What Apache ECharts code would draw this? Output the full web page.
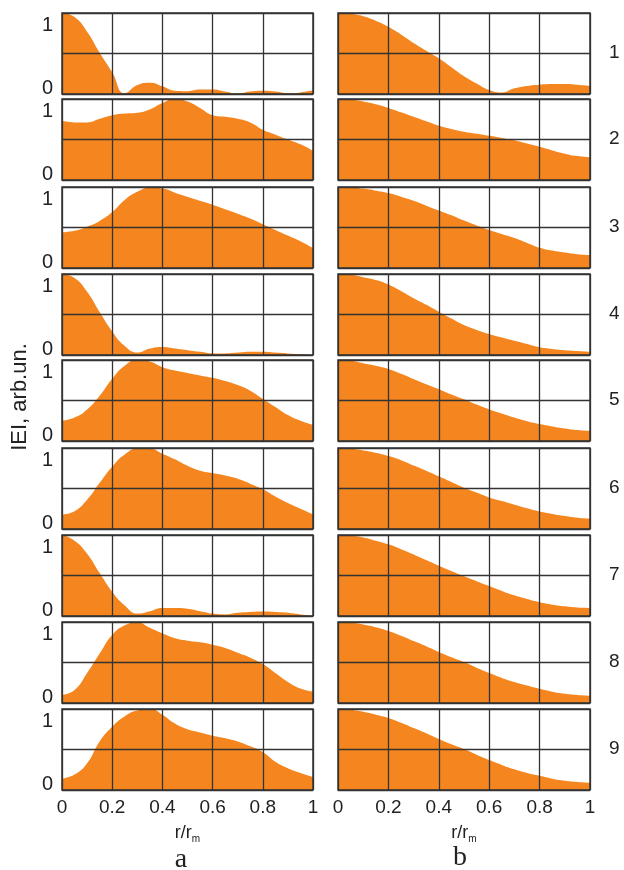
<!DOCTYPE html>
<html><head><meta charset="utf-8">
<script src="https://cdn.jsdelivr.net/npm/echarts@6/dist/echarts.min.js"></script>
<style>html,body{margin:0;padding:0;background:#fff}#c{width:624px;height:870px}</style>
</head><body><div id="c"></div>
<script>
var R = [0,0.05,0.1,0.15,0.2,0.25,0.3,0.35,0.4,0.45,0.5,0.55,0.6,0.65,0.7,0.75,0.8,0.85,0.9,0.95,1.0];
var xTicks = ['0','0.2','0.4','0.6','0.8','1'];
var rowLabels = ['1','2','3','4','5','6','7','8','9'];
var colLabels = ['a','b'];
var yTitle = 'IEI, arb.un.';

var a1 = [1.0,0.95,0.77,0.51,0.27,0.01,0.11,0.14,0.095,0.04,0.035,0.055,0.055,0.03,0.005,0.03,0.04,0.03,0.01,0.02,0.045];
var a2 = [0.73,0.71,0.71,0.755,0.80,0.82,0.83,0.87,0.95,1.0,0.97,0.89,0.80,0.78,0.755,0.71,0.62,0.56,0.50,0.44,0.36];
var a3 = [0.44,0.46,0.51,0.58,0.69,0.84,0.94,0.99,0.98,0.93,0.88,0.83,0.78,0.725,0.67,0.61,0.54,0.47,0.40,0.33,0.245];
var a4 = [1.0,0.95,0.78,0.53,0.29,0.11,0.03,0.08,0.10,0.08,0.06,0.04,0.02,0.02,0.03,0.04,0.04,0.03,0.02,0.01,0.0];
var a5 = [0.25,0.29,0.39,0.56,0.77,0.93,1.0,0.98,0.91,0.87,0.84,0.81,0.78,0.74,0.69,0.62,0.52,0.42,0.32,0.25,0.20];
var a6 = [0.18,0.22,0.36,0.57,0.77,0.92,0.99,0.99,0.93,0.86,0.78,0.72,0.69,0.66,0.62,0.56,0.49,0.40,0.32,0.25,0.18];
var a7 = [1.0,0.93,0.77,0.53,0.30,0.13,0.03,0.06,0.10,0.10,0.09,0.06,0.03,0.02,0.04,0.05,0.055,0.05,0.04,0.02,0.0];
var a8 = [0.10,0.16,0.37,0.61,0.84,0.96,0.995,0.93,0.86,0.80,0.77,0.75,0.72,0.68,0.62,0.56,0.48,0.37,0.26,0.18,0.14];
var a9 = [0.14,0.19,0.33,0.60,0.78,0.91,0.98,1.0,0.93,0.82,0.75,0.71,0.67,0.64,0.60,0.54,0.47,0.35,0.27,0.21,0.16];

var b1 = [1.0,0.99,0.96,0.905,0.83,0.735,0.63,0.535,0.44,0.33,0.22,0.13,0.05,0.02,0.07,0.10,0.115,0.122,0.125,0.115,0.10];
var b2 = [1.0,0.99,0.97,0.935,0.89,0.835,0.78,0.725,0.67,0.63,0.595,0.57,0.545,0.52,0.49,0.45,0.41,0.365,0.325,0.295,0.28];
var b3 = [1.0,0.995,0.98,0.955,0.925,0.88,0.83,0.77,0.71,0.65,0.585,0.525,0.47,0.42,0.37,0.31,0.25,0.215,0.19,0.17,0.16];
var b4 = [1.0,0.99,0.96,0.925,0.87,0.79,0.70,0.62,0.535,0.45,0.37,0.31,0.26,0.215,0.175,0.135,0.095,0.075,0.06,0.05,0.04];
var b5 = [1.0,0.99,0.96,0.93,0.89,0.83,0.765,0.70,0.64,0.575,0.515,0.45,0.39,0.34,0.29,0.245,0.21,0.18,0.155,0.135,0.125];
var b6 = [1.0,0.99,0.97,0.94,0.90,0.85,0.785,0.72,0.65,0.58,0.51,0.45,0.39,0.345,0.30,0.255,0.215,0.185,0.16,0.14,0.13];
var b7 = [1.0,0.99,0.97,0.93,0.885,0.825,0.76,0.69,0.62,0.555,0.49,0.43,0.37,0.31,0.255,0.21,0.17,0.14,0.12,0.105,0.10];
var b8 = [1.0,0.99,0.97,0.935,0.89,0.83,0.765,0.70,0.63,0.565,0.505,0.435,0.37,0.31,0.26,0.215,0.175,0.14,0.115,0.10,0.09];
var b9 = [1.0,0.99,0.965,0.93,0.89,0.83,0.765,0.70,0.63,0.565,0.505,0.435,0.37,0.31,0.255,0.21,0.175,0.14,0.115,0.10,0.09];

var colA = [a1,a2,a3,a4,a5,a6,a7,a8,a9];
var colB = [b1,b2,b3,b4,b5,b6,b7,b8,b9];

var TOPS = [13,99,187,274,360,448,535,622,709];
var H = 81;
var LEFTS = [62,338];
var WIDTHS = [251,252];
var FILL = '#F5861F';
var LINE = '#333333';
var FONT = '"Liberation Sans", Arial, sans-serif';

var grids = [], xAxes = [], yAxes = [], series = [], graphics = [];
var cols = [colA, colB];
var idx = 0;
for (var c = 0; c < 2; c++) {
  for (var r = 0; r < 9; r++) {
    grids.push({left: LEFTS[c], top: TOPS[r], width: WIDTHS[c], height: H,
      show: true, borderColor: LINE, borderWidth: 1.5, backgroundColor: 'transparent', z: 5});
    var bottom = (r === 8);
    var xa = {type: 'value', gridIndex: idx, min: 0, max: 1, interval: 0.2, z: 5,
      axisLine: {show: false}, axisTick: {show: false},
      splitLine: {show: true, lineStyle: {color: LINE, width: 1.3}},
      axisLabel: {show: bottom, margin: 8, color: '#222', fontSize: 19, fontFamily: FONT,
        formatter: function (v) { return xTicks[Math.round(v / 0.2)]; }}};
    if (bottom) {
      xa.name = '{a|r/r}{s|m}';
      xa.nameLocation = 'middle';
      xa.nameGap = 33;
      xa.nameTextStyle = {rich: {
        a: {fontSize: 18, fontFamily: FONT, color: '#222'},
        s: {fontSize: 10, fontFamily: FONT, color: '#222', padding: [11, 0, 0, 0]}
      }};
    }
    xAxes.push(xa);
    yAxes.push({type: 'value', gridIndex: idx, min: 0, max: 1, interval: 0.5, z: 5,
      axisLine: {show: false}, axisTick: {show: false},
      splitLine: {show: true, lineStyle: {color: LINE, width: 1.3}},
      axisLabel: {show: c === 0, margin: 9, color: '#222', fontFamily: FONT,
        formatter: function (v) { return v === 1 ? '{t|1}' : (v === 0 ? '{b|0}' : ''); },
        rich: {t: {fontSize: 20, fontFamily: FONT, color: '#222', padding: [25, 0, 0, 0]},
               b: {fontSize: 20, fontFamily: FONT, color: '#222', padding: [0, 0, 11, 0]}}}});
    var d = [];
    for (var k = 0; k < R.length; k++) d.push([R[k], cols[c][r][k]]);
    series.push({type: 'line', xAxisIndex: idx, yAxisIndex: idx, data: d, smooth: 0.5,
      showSymbol: false, symbol: 'none', lineStyle: {width: 0}, z: 2,
      areaStyle: {color: FILL, opacity: 1}, silent: true, animation: false});
    idx++;
  }
}
for (var r2 = 0; r2 < 9; r2++) {
  graphics.push({type: 'text', left: 609, top: TOPS[r2] + H / 2 - 10,
    style: {text: rowLabels[r2], font: '19px ' + FONT, fill: '#222'}});
}
graphics.push({type: 'text', x: 20, y: 397, rotation: Math.PI / 2,
  style: {text: yTitle, font: '22px ' + FONT, fill: '#222', textAlign: 'center', textVerticalAlign: 'middle'}});
graphics.push({type: 'text', x: 181, y: 860,
  style: {text: colLabels[0], font: '28px "Liberation Serif", "DejaVu Serif", serif', fill: '#222', textAlign: 'center', textVerticalAlign: 'middle'}});
graphics.push({type: 'text', x: 460, y: 858,
  style: {text: colLabels[1], font: '28px "Liberation Serif", "DejaVu Serif", serif', fill: '#222', textAlign: 'center', textVerticalAlign: 'middle'}});

var chart = echarts.init(document.getElementById('c'), null, {renderer: 'canvas'});
chart.setOption({animation: false, grid: grids, xAxis: xAxes, yAxis: yAxes, series: series, graphic: graphics});
</script>
</body></html>
